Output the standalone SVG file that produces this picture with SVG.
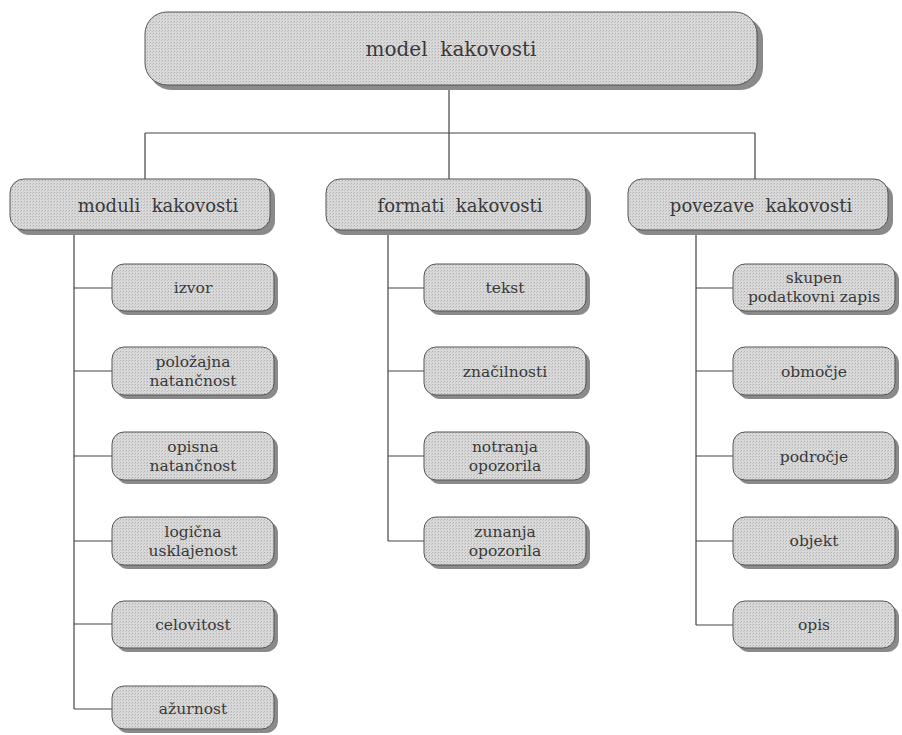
<svg xmlns="http://www.w3.org/2000/svg" width="902" height="735" viewBox="0 0 902 735">
<defs>
<pattern id="dots" width="3" height="3" patternUnits="userSpaceOnUse">
<rect width="3" height="3" fill="#d9d9d9"/>
<rect width="1" height="1" fill="#b0b0b0"/>
<rect x="2" y="1" width="1" height="1" fill="#c2c2c2"/>
</pattern>
</defs>
<style>
.shadow{fill:#8a8a8a}
.box{fill:url(#dots);stroke:#555;stroke-width:1}
text{font-family:'DejaVu Serif','Liberation Serif',serif;fill:#3a3a3a;text-anchor:middle;white-space:pre}
.t1{font-size:20px}
.t2{font-size:18px}
.t3{font-size:15.5px}
.conn{fill:none;stroke:#444;stroke-width:1.2}
</style>
<rect width="902" height="735" fill="#fff"/>
<g id="connectors">
<path class="conn" d="M449 87V133M145 133H755M145 133V179M449 133V179M755 133V179"/>
<path class="conn" d="M74 231V709M74 288H112M74 371H112M74 456H112M74 541H112M74 624H112M74 709H112"/>
<path class="conn" d="M388 231V541M388 288H424M388 371H424M388 456H424M388 541H424"/>
<path class="conn" d="M696 231V625M696 288H733M696 371H733M696 456H733M696 541H733M696 625H733"/>
</g>
<g id="model">
<rect class="shadow" x="149" y="17" width="614" height="73" rx="22"/>
<rect class="box" x="145" y="12" width="612" height="73" rx="22"/>
<text class="t1" x="451" y="56" xml:space="preserve">model  kakovosti</text>
</g>
<g id="moduli">
<rect class="shadow" x="15" y="184" width="260" height="51" rx="14"/>
<rect class="box" x="10" y="179" width="260" height="51" rx="14"/>
<text class="t2" x="158" y="212" xml:space="preserve">moduli  kakovosti</text>
</g>
<g id="formati">
<rect class="shadow" x="331" y="184" width="260" height="51" rx="14"/>
<rect class="box" x="326" y="179" width="260" height="51" rx="14"/>
<text class="t2" x="460" y="212" xml:space="preserve">formati  kakovosti</text>
</g>
<g id="povezave">
<rect class="shadow" x="633" y="184" width="260" height="51" rx="14"/>
<rect class="box" x="628" y="179" width="260" height="51" rx="14"/>
<text class="t2" x="761" y="212" xml:space="preserve">povezave  kakovosti</text>
</g>
<g id="izvor">
<rect class="shadow" x="116" y="268" width="162" height="47" rx="12"/>
<rect class="box" x="112" y="264" width="162" height="47" rx="12"/>
<text class="t3" x="193" y="293">izvor</text>
</g>
<g id="polozajna">
<rect class="shadow" x="116" y="351" width="162" height="48" rx="12"/>
<rect class="box" x="112" y="347" width="162" height="48" rx="12"/>
<text class="t3" x="193" y="367">položajna</text>
<text class="t3" x="193" y="386">natančnost</text>
</g>
<g id="opisna">
<rect class="shadow" x="116" y="436" width="162" height="48" rx="12"/>
<rect class="box" x="112" y="432" width="162" height="48" rx="12"/>
<text class="t3" x="193" y="452">opisna</text>
<text class="t3" x="193" y="471">natančnost</text>
</g>
<g id="logicna">
<rect class="shadow" x="116" y="521" width="162" height="48" rx="12"/>
<rect class="box" x="112" y="517" width="162" height="48" rx="12"/>
<text class="t3" x="193" y="537">logična</text>
<text class="t3" x="193" y="556">usklajenost</text>
</g>
<g id="celovitost">
<rect class="shadow" x="116" y="605" width="162" height="47" rx="12"/>
<rect class="box" x="112" y="601" width="162" height="47" rx="12"/>
<text class="t3" x="193" y="630">celovitost</text>
</g>
<g id="azurnost">
<rect class="shadow" x="116" y="690" width="162" height="43" rx="12"/>
<rect class="box" x="112" y="686" width="162" height="43" rx="12"/>
<text class="t3" x="193" y="714">ažurnost</text>
</g>
<g id="tekst">
<rect class="shadow" x="428" y="268" width="162" height="47" rx="12"/>
<rect class="box" x="424" y="264" width="162" height="47" rx="12"/>
<text class="t3" x="505" y="293">tekst</text>
</g>
<g id="znacilnosti">
<rect class="shadow" x="428" y="351" width="162" height="48" rx="12"/>
<rect class="box" x="424" y="347" width="162" height="48" rx="12"/>
<text class="t3" x="505" y="377">značilnosti</text>
</g>
<g id="notranja">
<rect class="shadow" x="428" y="436" width="162" height="48" rx="12"/>
<rect class="box" x="424" y="432" width="162" height="48" rx="12"/>
<text class="t3" x="505" y="452">notranja</text>
<text class="t3" x="505" y="471">opozorila</text>
</g>
<g id="zunanja">
<rect class="shadow" x="428" y="521" width="162" height="48" rx="12"/>
<rect class="box" x="424" y="517" width="162" height="48" rx="12"/>
<text class="t3" x="505" y="537">zunanja</text>
<text class="t3" x="505" y="556">opozorila</text>
</g>
<g id="skupen">
<rect class="shadow" x="737" y="268" width="162" height="47" rx="12"/>
<rect class="box" x="733" y="264" width="162" height="47" rx="12"/>
<text class="t3" x="814" y="283">skupen</text>
<text class="t3" x="814" y="302">podatkovni zapis</text>
</g>
<g id="obmocje">
<rect class="shadow" x="737" y="351" width="162" height="48" rx="12"/>
<rect class="box" x="733" y="347" width="162" height="48" rx="12"/>
<text class="t3" x="814" y="377">območje</text>
</g>
<g id="podrocje">
<rect class="shadow" x="737" y="436" width="162" height="48" rx="12"/>
<rect class="box" x="733" y="432" width="162" height="48" rx="12"/>
<text class="t3" x="814" y="462">področje</text>
</g>
<g id="objekt">
<rect class="shadow" x="737" y="521" width="162" height="48" rx="12"/>
<rect class="box" x="733" y="517" width="162" height="48" rx="12"/>
<text class="t3" x="814" y="546">objekt</text>
</g>
<g id="opis">
<rect class="shadow" x="737" y="605" width="162" height="47" rx="12"/>
<rect class="box" x="733" y="601" width="162" height="47" rx="12"/>
<text class="t3" x="814" y="630">opis</text>
</g>
</svg>
